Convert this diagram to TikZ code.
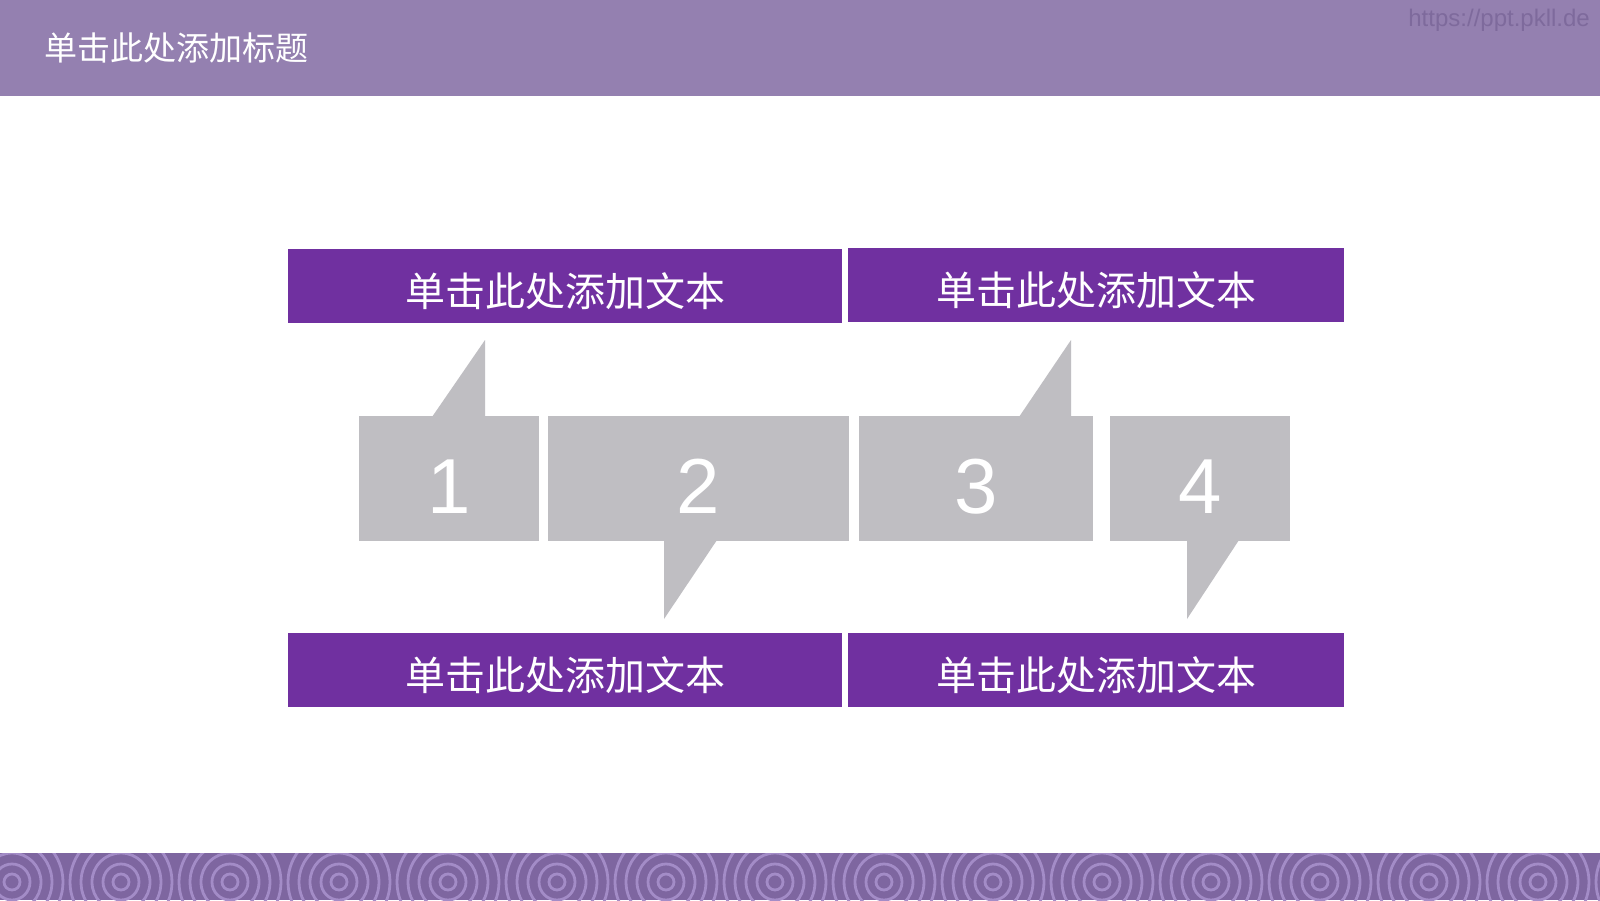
\documentclass[tikz,border=0pt]{standalone}
\usepackage{fontspec}
\setmainfont{Liberation Sans}
\newfontfamily\cjkfont{Noto Sans CJK SC}
\usepackage{xcolor}
\definecolor{hpurple}{RGB}{112,48,160}
\definecolor{hbar}{RGB}{148,128,176}
\definecolor{hband}{RGB}{126,102,160}
\definecolor{hring}{RGB}{163,140,199}
\definecolor{hgrey}{RGB}{191,190,194}
\definecolor{hmark}{RGB}{126,106,156}
\usetikzlibrary{calc}
\tikzset{
  textbox/.style={fill=hpurple,minimum height=74pt,inner sep=0pt,text=white,
    font=\cjkfont\fontsize{40}{40}\selectfont,text height=40pt,text depth=0pt},
  numbox/.style={fill=hgrey,minimum height=125pt,inner sep=0pt,text=white,
    font=\fontsize{78}{78}\selectfont,text height=69pt,text depth=0pt},
  tail/.style={fill=hgrey},
  ring/.style={draw=hring,line width=2.8pt}
}

\begin{document}
\begin{tikzpicture}[x=1pt,y=-1pt]
\useasboundingbox (0,0) rectangle (1600,900);
\fill[white] (0,0) rectangle (1600,900);
\fill[hbar] (0,0) rectangle (1600,96);
\node[anchor=west,inner sep=0pt,text=white,font=\cjkfont\fontsize{33}{33}\selectfont] (title) at (44,48) {单击此处添加标题};
\node[anchor=east,inner sep=0pt,text=hmark,font=\fontsize{24}{24}\selectfont] (mark) at (1590,20) {https://ppt.pkll.de};
\begin{scope}
\clip (0,853) rectangle (1600,900);
\fill[hband] (0,853) rectangle (1600,900);
\foreach \i in {0,...,15} {
  \foreach \r in {8,18,29,40,51} {
    \draw[ring] (12+109*\i,882) circle[radius=\r];
  }
}
\end{scope}
\node[textbox,minimum width=554pt] (t1) at (565,286) {单击此处添加文本};
\node[textbox,minimum width=496pt] (t2) at (1096,285) {单击此处添加文本};
\node[textbox,minimum width=554pt] (t3) at (565,670) {单击此处添加文本};
\node[textbox,minimum width=496pt] (t4) at (1096,670) {单击此处添加文本};
\fill[tail] (432,417) -- (485,340) -- (485,417) -- cycle;
\fill[tail] (664,540) -- (664,619) -- (717,540) -- cycle;
\fill[tail] (1019,417) -- (1071,340) -- (1071,417) -- cycle;
\fill[tail] (1187,540) -- (1187,619) -- (1239,540) -- cycle;
\node[numbox,minimum width=180pt] (b1) at (449,478.5) {1};
\node[numbox,minimum width=301pt] (b2) at (698.5,478.5) {2};
\node[numbox,minimum width=234pt] (b3) at (976,478.5) {3};
\node[numbox,minimum width=180pt] (b4) at (1200,478.5) {4};
\end{tikzpicture}
\end{document}
